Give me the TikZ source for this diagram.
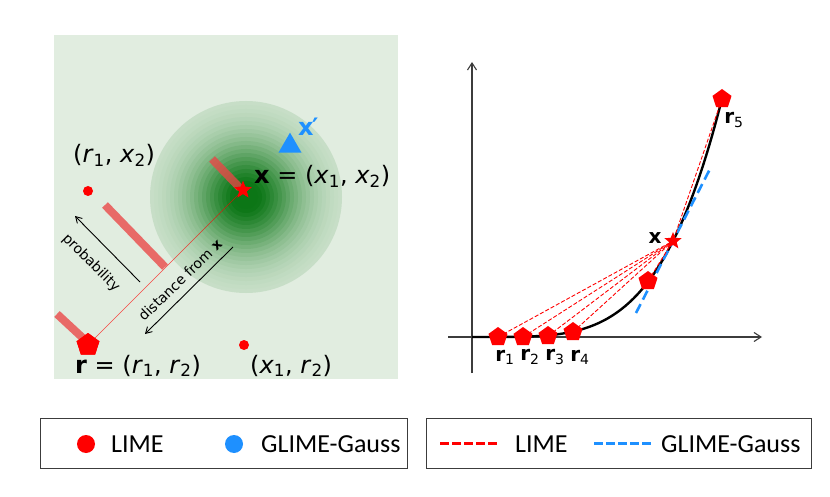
\documentclass[tikz,border=0pt]{standalone}
\usepackage{fontspec}
\setmainfont{DejaVu Sans}
\newfontfamily\carl{Carlito}
\usetikzlibrary{shapes.geometric,arrows.meta}
\definecolor{bgg}{RGB}{225,237,224}
\definecolor{gdark}{RGB}{12,118,22}
\definecolor{lred}{RGB}{255,0,0}
\definecolor{gblue}{RGB}{30,144,255}
\definecolor{barred}{RGB}{234,70,70}
\definecolor{axgray}{RGB}{60,60,60}
\begin{document}
\begin{tikzpicture}[x=1pt,y=-1pt,
  lt/.style={font=\fontsize{24}{28}\selectfont, inner sep=0pt},
  rt/.style={font=\fontsize{20}{24}\selectfont, inner sep=0pt},
  legt/.style={font=\carl\fontsize{26}{30}\selectfont, inner sep=0pt, anchor=west},
  bar/.style={line width=8pt, draw=barred, opacity=0.78},
  pent/.style={regular polygon, regular polygon sides=5, fill=lred, draw=none, inner sep=0pt},
  starx/.style={star, star points=5, star point ratio=2.3, fill=lred, draw=none, inner sep=0pt, minimum size=18pt},
  dot/.style={circle, fill=lred, draw=none, inner sep=0pt, minimum size=10pt},
  thinarrow/.style={-{Straight Barb[length=6pt,width=7pt]}, line width=0.9pt, black},
  ldash/.style={draw=lred, line width=0.9pt, dash pattern=on 4pt off 2pt},
  legbox/.style={draw=axgray, line width=0.9pt},
]
\useasboundingbox (0,0) rectangle (830,497);
\fill[white] (0,0) rectangle (830,497);

% ---------- left panel ----------
\fill[bgg] (54,35) rectangle (398,379);
\foreach \r in {96,92,...,4} {
  \pgfmathsetmacro\p{min(100, 100*exp(-(\r/56)^2) + 7)}
  \fill[gdark!\p!bgg] (246,197) circle[radius=\r];
}

\draw[bar] (212,159) -- (240,188);
\draw[bar] (105,205) -- (165,267);
\draw[bar] (57,314) -- (85,340);

\node[starx] (xs) at (243,190) {};
\node[pent, minimum size=24pt] (rp) at (88,345) {};
\draw[lred, line width=0.6pt, opacity=0.7] (rp.center) -- (xs.center);
\node[pent, minimum size=24pt] at (88,345) {};
\node[starx] at (243,190) {};

\node[dot] (d1) at (88,191) {};
\node[dot] (d2) at (244,345) {};

\node[isosceles triangle, isosceles triangle apex angle=60, shape border rotate=90, fill=gblue, inner sep=0pt, minimum size=20pt] (xp) at (290,146) {};
\node[lt, text=gblue, anchor=base west] (xpl) at (298,136) {\textbf{x\kern-1.5pt′}};

\node[lt, anchor=base west] (t1) at (73,163) {(\textit{r}\textsubscript{1}, \textit{x}\textsubscript{2})};
\node[lt, anchor=base west] (t2) at (254,184) {\textbf{x} = (\textit{x}\textsubscript{1}, \textit{x}\textsubscript{2})};
\node[lt, anchor=base west] (t3) at (75,373) {\textbf{r} = (\textit{r}\textsubscript{1}, \textit{r}\textsubscript{2})};
\node[lt, anchor=base west] (t4) at (250,373) {(\textit{x}\textsubscript{1}, \textit{r}\textsubscript{2})};

\coordinate (pa1) at (140,282);
\coordinate (pa2) at (75,216);
\draw[thinarrow] (pa1) -- (pa2);
\node[font=\fontsize{14}{16}\selectfont, rotate=-45, inner sep=0pt] (prob) at (91,263) {probability};

\coordinate (da1) at (233,247);
\coordinate (da2) at (145,334);
\draw[thinarrow] (da1) -- (da2);
\node[font=\fontsize{14}{16}\selectfont, rotate=44, inner sep=0pt] (dist) at (180,280) {distance from \textbf{x}};

% ---------- right panel ----------
\coordinate (yb) at (472,373);
\coordinate (yt) at (472,62);
\coordinate (xl) at (448,337);
\coordinate (xr) at (762,337);
\draw[-{Straight Barb[length=7pt,width=9pt]}, line width=1.1pt, axgray] (yb) -- (yt);
\draw[-{Straight Barb[length=7pt,width=9pt]}, line width=1.1pt, axgray] (xl) -- (xr);

\draw[line width=2.4pt, black] (472,337) -- plot[domain=490:722, samples=90] (\x, {337 - 96*((\x-472)/201)^4.17});

\draw[gblue, line width=2.6pt, dash pattern=on 10pt off 5pt] (636,313) -- (711,167);

\node[pent, minimum size=20pt] (r1) at (498,337) {};
\node[pent, minimum size=20pt] (r2) at (523,337) {};
\node[pent, minimum size=20pt] (r3) at (548,336) {};
\node[pent, minimum size=20pt] (r4) at (573,332) {};
\node[pent, minimum size=20pt] (r6) at (648,281) {};
\node[pent, minimum size=20pt] (r5) at (722,99) {};
\node[starx] (xs2) at (673,241) {};

\foreach \n in {r1,r2,r3,r4,r6,r5} \draw[ldash] (\n.center) -- (xs2.center);

\node[rt] (lx) at (655,238) {\textbf{x}};
\node[rt] (l1) at (505,357) {\textbf{r}\textsubscript{1}};
\node[rt] (l2) at (530,357) {\textbf{r}\textsubscript{2}};
\node[rt] (l3) at (555,357) {\textbf{r}\textsubscript{3}};
\node[rt] (l4) at (580,357) {\textbf{r}\textsubscript{4}};
\node[rt] (l5) at (734,120) {\textbf{r}\textsubscript{5}};

% ---------- legends ----------
\draw[legbox] (40,418) rectangle (407,468);
\draw[legbox] (426,418) rectangle (811,468);

\node[circle, fill=lred, inner sep=0pt, minimum size=18pt] (ld1) at (86,444) {};
\node[legt] (lt1) at (111,444) {LIME};
\node[circle, fill=gblue, inner sep=0pt, minimum size=18pt] (ld2) at (234,444) {};
\node[legt] (lt2) at (261,444) {GLIME-Gauss};

\coordinate (la1) at (440,443);
\coordinate (la2) at (498,443);
\draw[lred, line width=3pt, dash pattern=on 8.5pt off 3.5pt] (la1) -- (la2);
\node[legt] (lt3) at (515,444) {LIME};
\coordinate (lb1) at (594,443);
\coordinate (lb2) at (653,443);
\draw[gblue, line width=3pt, dash pattern=on 8.5pt off 3.5pt] (lb1) -- (lb2);
\node[legt] (lt4) at (661,444) {GLIME-Gauss};
\end{tikzpicture}
\end{document}
